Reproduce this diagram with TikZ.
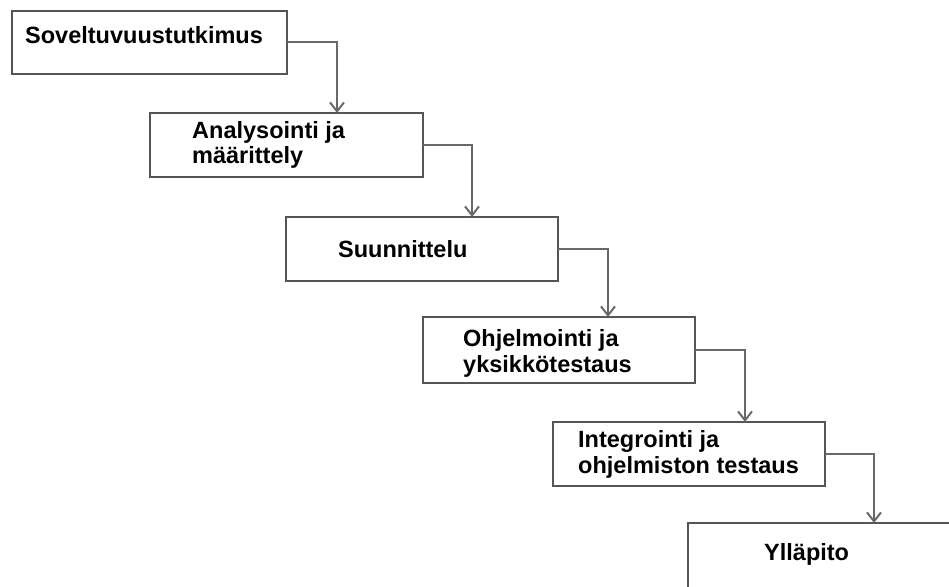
\documentclass[tikz,border=0pt]{standalone}
\usepackage{fontspec}
\usetikzlibrary{arrows.meta}
\newfontfamily\labfont{Liberation Sans}
\definecolor{boxcol}{RGB}{85,85,85}
\definecolor{linecol}{RGB}{105,105,105}
\begin{document}
\begin{tikzpicture}[x=1pt,y=-1pt,
  box/.style={draw=boxcol,line width=1.8pt,fill=white,rectangle,inner sep=0pt,outer sep=0pt,minimum width=272pt,minimum height=64pt},
  lab/.style={anchor=base west,inner sep=0pt,font=\labfont\bfseries\fontsize{23.5}{25}\selectfont,text=black},
  conn/.style={draw=linecol,line width=2pt,-{Straight Barb[length=9pt,width=14pt,line width=2pt]}}]
\useasboundingbox (0,0) rectangle (949,586);
\clip (0,0) rectangle (949,586);
\fill[white] (0,0) rectangle (949,586);
% boxes
\node[box,minimum width=275pt,minimum height=63pt] (b1) at (149.5,42.5) {};
\node[box,minimum width=273pt] (b2) at (286.5,145) {};
\node[box] (b3) at (422,249) {};
\node[box,minimum height=66pt] (b4) at (559,350) {};
\node[box] (b5) at (689,454) {};
\node[box,minimum height=68pt] (b6) at (824,557) {};
% labels
\node[lab] (t1) at (25,44) {Soveltuvuustutkimus};
\node[lab] (t2a) at (192,138) {Analysointi ja};
\node[lab] (t2b) at (192,163) {määrittely};
\node[lab] (t3) at (338,257) {Suunnittelu};
\node[lab] (t4a) at (463,346) {Ohjelmointi ja};
\node[lab] (t4b) at (463,372) {yksikkötestaus};
\node[lab] (t5a) at (578,447) {Integrointi ja};
\node[lab] (t5b) at (578,473) {ohjelmiston testaus};
\node[lab] (t6) at (764,560) {Ylläpito};
% bend x positions
\coordinate (k1) at (337,0);
\coordinate (k2) at (472,0);
\coordinate (k3) at (608,0);
\coordinate (k4) at (745,0);
\coordinate (k5) at (874,0);
% connectors
\draw[conn] (b1.east) -| (k1 |- b2.north);
\draw[conn] (b2.east) -| (k2 |- b3.north);
\draw[conn] (b3.east) -| (k3 |- b4.north);
\draw[conn] (b4.east) -| (k4 |- b5.north);
\draw[conn] (b5.east) -| (k5 |- b6.north);
\end{tikzpicture}
\end{document}
